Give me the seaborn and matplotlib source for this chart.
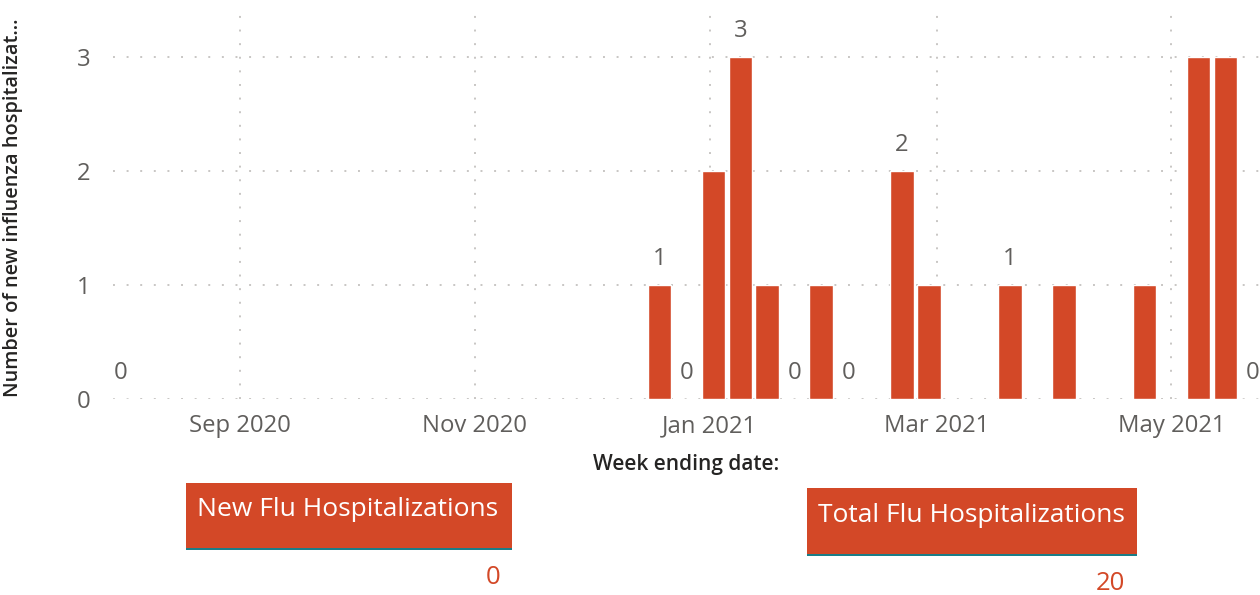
import numpy as np
import pandas as pd
import matplotlib
matplotlib.use("Agg")
import matplotlib.pyplot as plt
import matplotlib.dates as mdates
from matplotlib.patches import Rectangle
import seaborn as sns

# weekly influenza admissions
week_ending = ["2020-08-01", "2020-12-19", "2020-12-26", "2021-01-02", "2021-01-09",
               "2021-01-16", "2021-01-23", "2021-01-30", "2021-02-06", "2021-02-20",
               "2021-02-27", "2021-03-20", "2021-04-03", "2021-04-24", "2021-05-08",
               "2021-05-15", "2021-05-22"]
new_flu = [0, 1, 0, 2, 3, 1, 0, 1, 0, 2, 1, 1, 1, 1, 3, 3, 0]
# which bars carry a data label
show_label = [1, 1, 1, 0, 1, 0, 1, 0, 1, 1, 0, 1, 0, 0, 0, 0, 1]
card_titles = ["New Flu Hospitalizations", "Total Flu Hospitalizations"]

BAR = "#D34827"
TEAL = "#1B7D87"
GRAY = "#605E5C"
DARK = "#252423"
W, H = 1260, 595

sns.set_theme(style="white")
plt.rcParams["font.family"] = ["Open Sans", "DejaVu Sans"]

df = pd.DataFrame({"week": pd.to_datetime(week_ending), "new": new_flu, "lab": show_label})
df["x"] = mdates.date2num(df["week"])

fig = plt.figure(figsize=(W / 100, H / 100), dpi=100)
fig.patch.set_facecolor("white")
ax = fig.add_axes([113 / W, 196 / H, 1147 / W, 391 / H])

sns.barplot(data=df, x="x", y="new", native_scale=True, width=0.88, color=BAR,
            saturation=1, errorbar=None, ax=ax)

ax.set_xlim(mdates.date2num(pd.Timestamp("2020-07-30")), mdates.date2num(pd.Timestamp("2021-05-24")))
ax.set_ylim(0, 3.43)
ax.set_yticks([0, 1, 2, 3])
ax.xaxis.set_major_locator(mdates.MonthLocator(bymonth=[1, 3, 5, 9, 11]))
ax.xaxis.set_major_formatter(mdates.DateFormatter("%b %Y"))

grid_kw = dict(color="#C8C6C4", linewidth=1.4, linestyle=(0, (1, 6)))
ax.grid(True, axis="both", **grid_kw)
ax.set_axisbelow(True)
for s in ax.spines.values():
    s.set_visible(False)
ax.tick_params(axis="both", length=0, labelsize=17.2, labelcolor=GRAY)
ax.tick_params(axis="x", pad=11)
ax.tick_params(axis="y", pad=16)

for _, r in df.iterrows():
    if r["lab"]:
        ax.annotate(f"{int(r['new'])}", (r["x"], r["new"]), xytext=(0, 19),
                    textcoords="offset points", ha="center", va="center",
                    fontsize=17.2, color=GRAY, annotation_clip=False)

ax.set_xlabel("Week ending date:", fontsize=15, color=DARK, fontweight=600, labelpad=11)
ax.set_ylabel("Number of new influenza hospitalizat...", fontsize=14.4, color=DARK,
              fontweight=600, labelpad=10)
ax.yaxis.set_label_coords(-90 / 1147, 0.49)


def card(x0, y0, x1, y1, title, value, vx, vy):
    fig.add_artist(Rectangle((x0 / W, 1 - y1 / H), (x1 - x0) / W, (y1 - y0) / H,
                             transform=fig.transFigure, facecolor=BAR, edgecolor="none"))
    fig.add_artist(Rectangle((x0 / W, 1 - y1 / H), (x1 - x0) / W, 2 / H,
                             transform=fig.transFigure, facecolor=TEAL, edgecolor="none"))
    fig.text((x0 + 11) / W, 1 - (y0 + 27) / H, title, ha="left", va="center",
             fontsize=19, color="white")
    fig.text(vx / W, 1 - vy / H, value, ha="center", va="center", fontsize=18.5, color=BAR)


card(186, 483, 512, 550, card_titles[0], f"{new_flu[-1]}", 493, 578)
card(807, 488, 1137, 556, card_titles[1], f"{sum(new_flu)}", 1110, 583)

fig.savefig("out.png", dpi=100, facecolor="white")
